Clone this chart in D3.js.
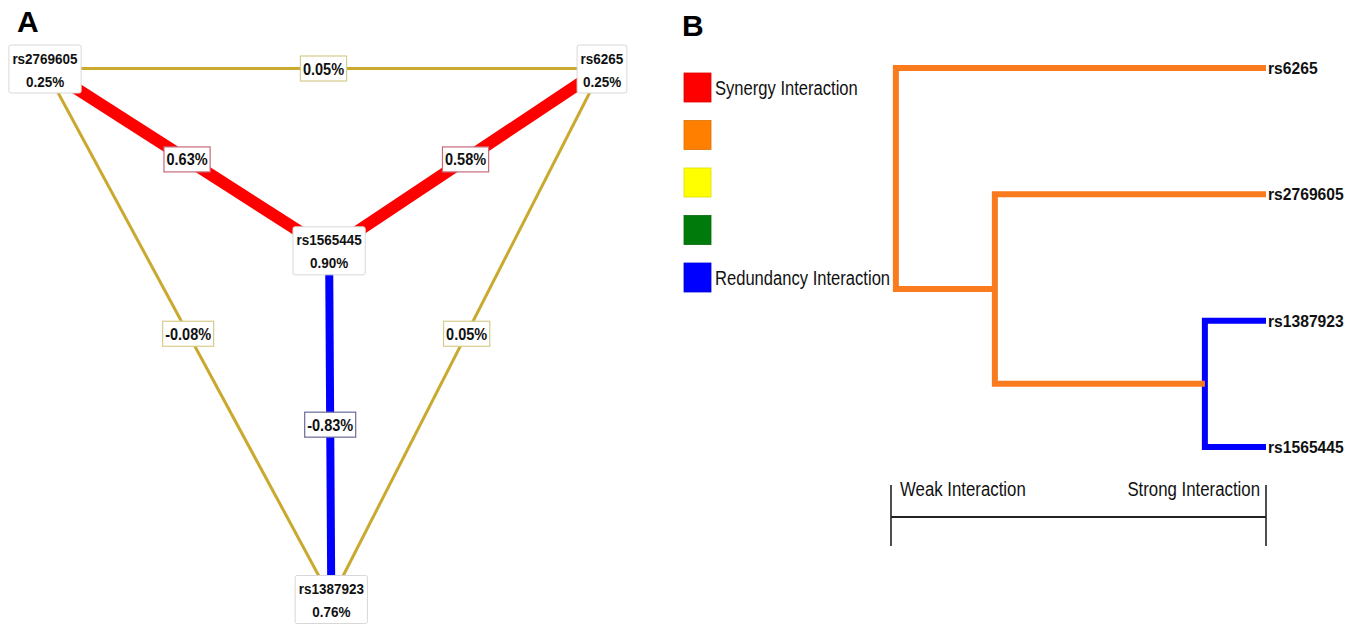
<!DOCTYPE html>
<html><head><meta charset="utf-8">
<script src="https://cdn.jsdelivr.net/npm/d3@7/dist/d3.min.js"></script>
<style>body{margin:0;background:#fff}svg{display:block}text{font-family:"Liberation Sans",Arial,sans-serif}</style>
</head><body><svg id="c" width="1363" height="626"></svg>
<script>
// ---- Panel A data ----
const nodeNames = ["rs2769605", "rs6265", "rs1387923", "rs1565445"];
const nodeValues = [0.25, 0.25, 0.76, 0.90];
const edgeSource = ["rs2769605", "rs2769605", "rs6265", "rs2769605", "rs6265", "rs1565445"];
const edgeTarget = ["rs6265", "rs1565445", "rs1565445", "rs1387923", "rs1387923", "rs1387923"];
const edgeValues = [0.05, 0.63, 0.58, -0.08, 0.05, -0.83];

// ---- Panel B data ----
const legendColors = ["#ff0000", "#ff8000", "#ffff00", "#007a0a", "#0000ff"];
const legendLabels = ["Synergy Interaction", "", "", "", "Redundancy Interaction"];
const leafOrder = ["rs6265", "rs2769605", "rs1387923", "rs1565445"];
// merges: [childA, childB, level (0 = weak, 1 = strong), type]
const mergeA = ["rs1387923", "m0", "m1"];
const mergeB = ["rs1565445", "rs2769605", "rs6265"];
const mergeLevel = [0.837, 0.277, 0.013];
const mergeType = ["redundancy", "moderate", "moderate"];
const scaleLabels = ["Weak Interaction", "Strong Interaction"];

const svg = d3.select("#c");

// condense text horizontally (narrow face look)
function narrow(t, k) {
  const L = t.node().getComputedTextLength();
  t.attr("textLength", L * k).attr("lengthAdjust", "spacingAndGlyphs");
  return L * k;
}

// ---------- Panel A ----------
svg.append("text").attr("x", 17).attr("y", 32).attr("font-size", 30).attr("font-weight", "bold").text("A");

// triangle layout: three outer nodes on vertices, central node near centroid
const xA = d3.scaleLinear().domain([0, 1]).range([45, 602]);
const yA = d3.scaleLinear().domain([0, 1]).range([68.5, 599]);
const layout = {};
layout["rs2769605"] = [xA(0), yA(0)];
layout["rs6265"] = [xA(1), yA(0)];
layout["rs1387923"] = [xA(0.514), yA(1)];
const cx = (layout["rs2769605"][0] + layout["rs6265"][0] + layout["rs1387923"][0]) / 3;
const cy = (layout["rs2769605"][1] + layout["rs6265"][1] + layout["rs1387923"][1]) / 3;
layout["rs1565445"] = [cx + 3, cy + 5];

const edges = edgeValues.map((v, i) => ({s: edgeSource[i], t: edgeTarget[i], v}));
const edgeColor = v => v > 0.3 ? "#ff0000" : (v < -0.3 ? "#0000ff" : "#c9a92e");
const edgeWidth = v => v > 0.3 ? 12 : (v < -0.3 ? 8 : 3);
const edgeBorder = v => v > 0.3 ? "#c86a7a" : (v < -0.3 ? "#6a6a9a" : "#d6cc8c");

const gE = svg.append("g");
gE.selectAll("line").data(edges).join("line")
  .attr("x1", d => layout[d.s][0]).attr("y1", d => layout[d.s][1])
  .attr("x2", d => layout[d.t][0]).attr("y2", d => layout[d.t][1])
  .attr("stroke", d => edgeColor(d.v)).attr("stroke-width", d => edgeWidth(d.v));

const fmt = v => v.toFixed(2) + "%";
const gL = svg.append("g");
edges.forEach(d => {
  const mx = (layout[d.s][0] + layout[d.t][0]) / 2;
  const my = (layout[d.s][1] + layout[d.t][1]) / 2;
  const g = gL.append("g").attr("transform", `translate(${mx},${my})`);
  const r = g.append("rect").attr("fill", "#fff").attr("stroke", edgeBorder(d.v)).attr("stroke-width", 1.2);
  const t = g.append("text").attr("text-anchor", "middle").attr("y", 6).attr("font-size", 16.5)
    .attr("font-weight", "bold").attr("fill", "#111").text(fmt(d.v));
  const w = narrow(t, 0.88) + 5;
  r.attr("x", -w / 2).attr("y", -12.5).attr("width", w).attr("height", 25);
});

const gN = svg.append("g");
nodeNames.forEach((n, i) => {
  const [x, y] = layout[n];
  const g = gN.append("g").attr("transform", `translate(${x},${y})`);
  const r = g.append("rect").attr("fill", "#fff").attr("stroke", "#d8d8d8").attr("stroke-width", 1).attr("rx", 2);
  const t1 = g.append("text").attr("text-anchor", "middle").attr("y", -5).attr("font-size", 15.5)
    .attr("font-weight", "bold").attr("fill", "#111").text(n);
  const t2 = g.append("text").attr("text-anchor", "middle").attr("y", 18).attr("font-size", 15.5)
    .attr("font-weight", "bold").attr("fill", "#111").text(fmt(nodeValues[i]));
  const w = narrow(t1, 0.87) + 7;
  narrow(t2, 0.87);
  r.attr("x", -w / 2).attr("y", -23.5).attr("width", w).attr("height", 48);
});

// ---------- Panel B ----------
svg.append("text").attr("x", 682).attr("y", 36).attr("font-size", 30).attr("font-weight", "bold").text("B");

const yLeg = d3.scalePoint().domain(d3.range(legendColors.length)).range([73, 263]);
const gLeg = svg.append("g");
legendColors.forEach((c, i) => {
  gLeg.append("rect").attr("x", 684).attr("y", yLeg(i)).attr("width", 27).attr("height", 29)
    .attr("fill", c).attr("stroke", d3.color(c).darker(0.4)).attr("stroke-width", 0.8);
  if (legendLabels[i]) {
    const t = gLeg.append("text").attr("x", 715).attr("y", yLeg(i) + 22)
      .attr("font-size", 19.5).attr("fill", "#111").text(legendLabels[i]);
    narrow(t, 0.85);
  }
});

const xB = d3.scaleLinear().domain([0, 1]).range([891, 1266]);
const yB = d3.scalePoint().domain(leafOrder).range([68, 447]);
const pos = {};
leafOrder.forEach(l => pos[l] = {x: xB(1), y: yB(l)});
const typeColor = {redundancy: "#0000ff", moderate: "#fa7a1e"};
const gD = svg.append("g").attr("fill", "none");
mergeA.forEach((a, i) => {
  const b = mergeB[i];
  const mx = xB(mergeLevel[i]);
  const pa = pos[a], pb = pos[b];
  pos["m" + i] = {x: mx, y: (pa.y + pb.y) / 2};
  gD.append("path")
    .attr("d", `M${pa.x},${pa.y}H${mx}V${pb.y}H${pb.x}`)
    .attr("stroke", typeColor[mergeType[i]]).attr("stroke-width", 6)
    .attr("stroke-linejoin", "miter");
});
const leafT = svg.append("g").selectAll("text").data(leafOrder).join("text")
  .attr("x", xB(1) + 2).attr("y", d => yB(d) + 6).attr("font-size", 17).attr("font-weight", "bold")
  .attr("fill", "#111").text(d => d);
leafT.each(function () { narrow(d3.select(this), 0.92); });

// scale bar
const gS = svg.append("g").attr("stroke", "#222");
gS.append("line").attr("x1", xB(0)).attr("x2", xB(1)).attr("y1", 517).attr("y2", 517).attr("stroke-width", 2.2);
[0, 1].forEach(v => gS.append("line").attr("x1", xB(v)).attr("x2", xB(v)).attr("y1", 485).attr("y2", 546).attr("stroke-width", 1.6));
const s0 = svg.append("text").attr("x", xB(0) + 9).attr("y", 496).attr("font-size", 20).attr("fill", "#111").text(scaleLabels[0]);
narrow(s0, 0.84);
const s1 = svg.append("text").attr("x", xB(1) - 6).attr("y", 496).attr("text-anchor", "end").attr("font-size", 20).attr("fill", "#111").text(scaleLabels[1]);
narrow(s1, 0.84);
</script></body></html>
